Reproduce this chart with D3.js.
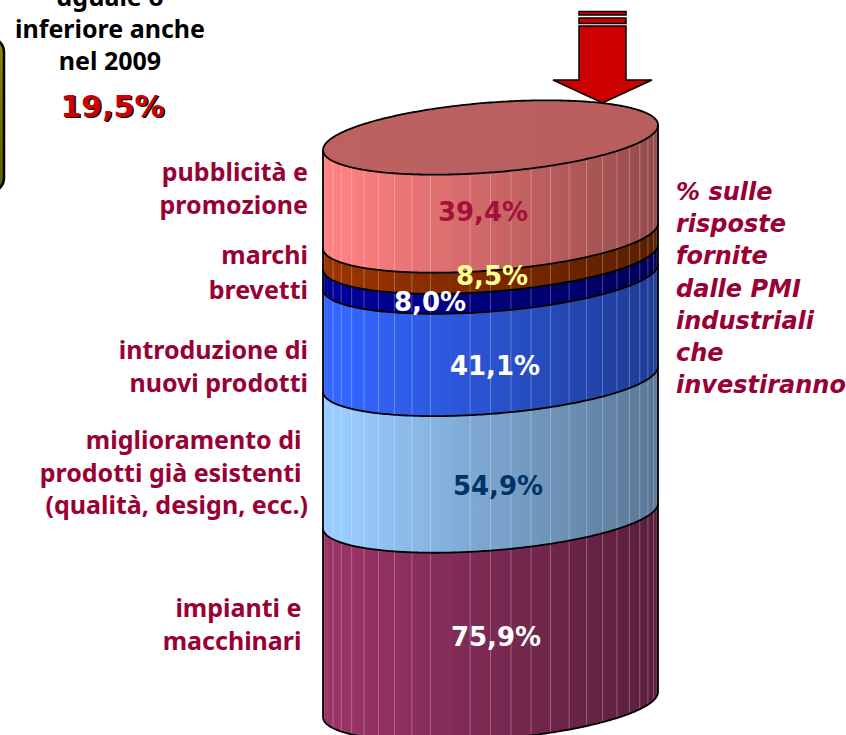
<!DOCTYPE html>
<html><head><meta charset="utf-8">
<script src="https://cdn.jsdelivr.net/npm/d3@7/dist/d3.min.js"></script>
<style>html,body{margin:0;padding:0;background:#fff;overflow:hidden}svg{display:block}</style>
</head><body><svg id="c" width="846" height="735" viewBox="0 0 846 735"></svg>
<script>
// bottom-to-top stack
const categories = ["impianti e macchinari","miglioramento di prodotti già esistenti (qualità, design, ecc.)","introduzione di nuovi prodotti","brevetti","marchi","pubblicità e promozione"];
const values = [75.9,54.9,41.1,8.0,8.5,39.4];
const valueLabels = ["75,9%","54,9%","41,1%","8,0%","8,5%","39,4%"];
const bandColors = ["#993366","#99CCFF","#3366FF","#000099","#993300","#FF8080"];
const valueColors = ["#ffffff","#003366","#ffffff","#ffffff","#FFFF99","#A5103A"];
const categoryLines = [["impianti e ","macchinari "],["miglioramento di ","prodotti già esistenti ","(qualità, design, ecc.)"],["introduzione di","nuovi prodotti"],["brevetti"],["marchi"],["pubblicità e","promozione"]];
const noteLines = ["% sulle","risposte","fornite","dalle PMI","industriali","che","investiranno"];
const calloutLines = ["uguale o","inferiore anche","nel 2009"];
const calloutValue = "19,5%";

// layout
const W=846,H=735;
const svg=d3.select("#c");
const defs=svg.append("defs");
const total=d3.sum(values);
const xLeft=323,xRight=658,cx=(xLeft+xRight)/2,r=(xRight-xLeft)/2;
const y=d3.scaleLinear().domain([0,total]).range([717,150]);
const tilt=-25/335, h=35;
const frontY=(x,edge)=>{const t=(x-cx)/r;return edge-12.5+tilt*(x-cx)+h*Math.sqrt(Math.max(0,1-t*t));};
const backY=(x,edge)=>{const t=(x-cx)/r;return edge-12.5+tilt*(x-cx)-h*Math.sqrt(Math.max(0,1-t*t));};
const xs=d3.range(0,181).map(d=>cx-r*Math.cos(d*Math.PI/180));
const line=d3.line().x(d=>d[0]).y(d=>d[1]);
let acc=0;
const bands=values.map((v,i)=>{const b={i,v,lo:acc,hi:acc+v};acc+=v;return b;});
const rev=bands.slice().reverse();

const mix=(c,k)=>{const q=d3.rgb(c);return d3.rgb(q.r*k,q.g*k,q.b*k).formatHex();};
bands.forEach(b=>{
  const g=defs.append("linearGradient").attr("id","g"+b.i).attr("gradientUnits","userSpaceOnUse")
    .attr("x1",xLeft).attr("x2",xRight).attr("y1",0).attr("y2",0);
  g.append("stop").attr("offset","6%").attr("stop-color",bandColors[b.i]);
  g.append("stop").attr("offset","100%").attr("stop-color",mix(bandColors[b.i],0.58));
});
const bandPath=b=>{
  const top=xs.map(x=>[x,frontY(x,y(b.hi))]);
  const bot=xs.slice().reverse().map(x=>[x,frontY(x,y(b.lo))]);
  return line(top.concat(bot))+"Z";
};
const gb=svg.append("g");
gb.selectAll("path.band").data(bands).join("path").attr("class","band")
  .attr("d",bandPath).attr("fill",d=>`url(#g${d.i})`);

// facet stripes
defs.append("clipPath").attr("id","body").append("path")
  .attr("d",line(xs.map(x=>[x,frontY(x,y(total))]).concat(xs.slice().reverse().map(x=>[x,frontY(x,y(0))])))+"Z");
const facetAngles=d3.range(6,176,7);
gb.append("g").attr("clip-path","url(#body)").selectAll("line").data(facetAngles).join("line")
  .attr("x1",a=>cx-r*Math.cos(a*Math.PI/180)).attr("x2",a=>cx-r*Math.cos(a*Math.PI/180))
  .attr("y1",90).attr("y2",H)
  .attr("stroke","#fff").attr("stroke-opacity",a=>(a===76||a===13)?0.06:0.28).attr("stroke-width",1);

// band borders
gb.selectAll("path.edge").data(bands).join("path").attr("class","edge")
  .attr("d",b=>line(xs.map(x=>[x,frontY(x,y(b.lo))])))
  .attr("fill","none").attr("stroke","#000").attr("stroke-width",1.8);
[xLeft,xRight].forEach(x=>gb.append("line").attr("x1",x).attr("x2",x)
  .attr("y1",frontY(x,y(total))).attr("y2",frontY(x,y(0))).attr("stroke","#000").attr("stroke-width",1.8));

// top cap
const capG=defs.append("linearGradient").attr("id","cap").attr("gradientUnits","userSpaceOnUse")
  .attr("x1",xLeft).attr("x2",xRight).attr("y1",0).attr("y2",0);
capG.append("stop").attr("offset","0%").attr("stop-color","#BD6161");
capG.append("stop").attr("offset","100%").attr("stop-color","#B85E5E");
const capEdge=y(total);
gb.append("path").attr("d",line(xs.map(x=>[x,frontY(x,capEdge)]).concat(xs.slice().reverse().map(x=>[x,backY(x,capEdge)])))+"Z")
  .attr("fill","url(#cap)").attr("stroke","#000").attr("stroke-width",1.8);

// arrow
const ax=602.5, arrowPts=[[-23.5,26],[23.5,26],[23.5,80],[49.5,80],[0,103],[-49.5,80],[-23.5,80]];
const ga=svg.append("g");
ga.append("path").attr("d",line(arrowPts.map(p=>[ax+p[0],p[1]]))+"Z").attr("fill","#CC0000").attr("stroke","#000").attr("stroke-width",1.5);
ga.append("rect").attr("x",ax-23.5).attr("y",18).attr("width",47).attr("height",5.5).attr("fill","#CC0000").attr("stroke","#000").attr("stroke-width",1.5);
ga.append("rect").attr("x",ax-23.5).attr("y",11.5).attr("width",47).attr("height",3.5).attr("fill","#CC0000").attr("stroke","#000").attr("stroke-width",1.5);

// left olive shape (cropped)
const og=defs.append("linearGradient").attr("id","ol").attr("x1",0).attr("x2",0).attr("y1",0).attr("y2",1);
og.append("stop").attr("offset","0%").attr("stop-color","#8A8A00");
og.append("stop").attr("offset","100%").attr("stop-color","#5C5C00");
svg.append("rect").attr("x",-70).attr("y",38).attr("width",74).attr("height",154).attr("rx",14)
  .attr("fill","url(#ol)").attr("stroke","#000").attr("stroke-width",2.5);

// text
const sans="'Noto Sans',Tahoma,sans-serif", wide="'DejaVu Sans',Verdana,sans-serif";
const labelTop=[617,449,359,299,264,181];
const lg=svg.append("g").attr("font-family",sans).attr("font-weight",700).attr("font-size",25)
  .attr("fill","#990033").attr("text-anchor","end");
categoryLines.forEach((ls,i)=>ls.forEach((t,j)=>lg.append("text").attr("x",308).attr("y",labelTop[i]+j*32.5)
  .attr("xml:space","preserve").style("white-space","pre").text(t)));

const valuePos=[[496,646],[498,495],[495,375],[430,311],[492,285],[483,221]];
svg.append("g").attr("font-family",wide).attr("font-weight",700).attr("font-size",26).attr("text-anchor","middle")
  .selectAll("text").data(valueLabels).join("text")
  .attr("x",(d,i)=>valuePos[i][0]).attr("y",(d,i)=>valuePos[i][1]).attr("fill",(d,i)=>valueColors[i]).text(d=>d);

svg.append("g").attr("font-family",wide).attr("font-weight",700).attr("font-style","italic").attr("font-size",24)
  .attr("fill","#990033").selectAll("text").data(noteLines).join("text")
  .attr("x",676).attr("y",(d,i)=>200+i*32.2).text(d=>d);

svg.append("g").attr("font-family",sans).attr("font-weight",700).attr("font-size",25).attr("fill","#000").attr("text-anchor","middle")
  .selectAll("text").data(calloutLines).join("text").attr("x",110).attr("y",(d,i)=>6+i*32).text(d=>d);
const cv=svg.append("g").attr("font-family",wide).attr("font-weight",700).attr("font-size",30).attr("text-anchor","middle");
cv.append("text").attr("x",114).attr("y",118).attr("fill","#000").text(calloutValue);
cv.append("text").attr("x",112.5).attr("y",116.5).attr("fill","#CC0000").text(calloutValue);
</script></body></html>
